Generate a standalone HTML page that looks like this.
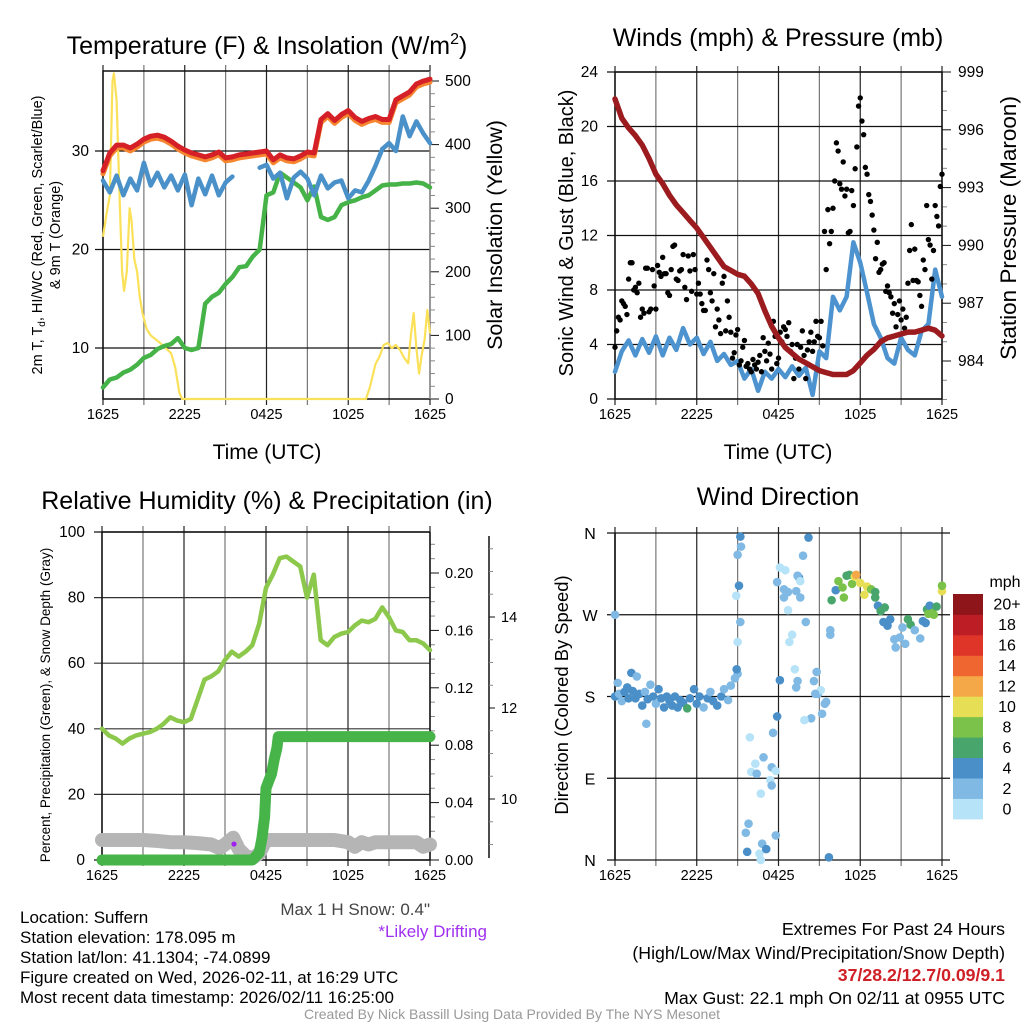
<!DOCTYPE html>
<html><head><meta charset="utf-8"><style>
html,body{margin:0;padding:0;background:#fff}
svg{display:block;font-family:"Liberation Sans",Arial,sans-serif}
</style></head><body>
<svg id="fig" width="1024" height="1024" viewBox="0 0 1024 1024" xmlns="http://www.w3.org/2000/svg">
<rect x="0" y="0" width="1024" height="1024" fill="#fff"/>
<!-- titles -->
<text x="267" y="54" font-size="25" text-anchor="middle">Temperature (F) &amp; Insolation (W/m<tspan font-size="16" dy="-10">2</tspan><tspan dy="10">)</tspan></text>
<text x="778" y="46" font-size="25" text-anchor="middle">Winds (mph) &amp; Pressure (mb)</text>
<text x="267" y="509" font-size="25" text-anchor="middle">Relative Humidity (%) &amp; Precipitation (in)</text>
<text x="778" y="505" font-size="25" text-anchor="middle">Wind Direction</text>
<!-- axis titles -->
<text transform="translate(42,235) rotate(-90)" font-size="14.5" text-anchor="middle">2m T, T<tspan font-size="10" dy="3">d</tspan><tspan dy="-3">, HI/WC (Red, Green, Scarlet/Blue)</tspan></text>
<text transform="translate(60,235) rotate(-90)" font-size="14.5" text-anchor="middle">&amp; 9m T (Orange)</text>
<text transform="translate(502,235) rotate(-90)" font-size="21.5" text-anchor="middle">Solar Insolation (Yellow)</text>
<text transform="translate(573,233) rotate(-90)" font-size="20" text-anchor="middle">Sonic Wind &amp; Gust (Blue, Black)</text>
<text transform="translate(1016,228) rotate(-90)" font-size="22.5" text-anchor="middle">Station Pressure (Maroon)</text>
<text transform="translate(50,705) rotate(-90)" font-size="13.5" text-anchor="middle">Percent, Precipitation (Green), &amp; Snow Depth (Gray)</text>
<text transform="translate(568,695) rotate(-90)" font-size="18.4" text-anchor="middle">Direction (Colored By Speed)</text>
<text x="267" y="459" font-size="21" text-anchor="middle">Time (UTC)</text>
<text x="778" y="459" font-size="21" text-anchor="middle">Time (UTC)</text>
<!-- info text -->
<g font-size="17">
<text x="20" y="923">Location: Suffern</text>
<text x="20" y="943">Station elevation: 178.095 m</text>
<text x="20" y="963">Station lat/lon: 41.1304; -74.0899</text>
<text x="20" y="983">Figure created on Wed, 2026-02-11, at 16:29 UTC</text>
<text x="20" y="1003">Most recent data timestamp: 2026/02/11 16:25:00</text>
</g>
<text x="430" y="915" font-size="17" fill="#444" text-anchor="end">Max 1 H Snow: 0.4"</text>
<text x="487" y="937" font-size="17" fill="#a030f0" text-anchor="end">*Likely Drifting</text>
<text x="1005" y="935" font-size="17.7" text-anchor="end">Extremes For Past 24 Hours</text>
<text x="1005" y="959" font-size="17.7" text-anchor="end">(High/Low/Max Wind/Precipitation/Snow Depth)</text>
<text x="1005" y="981" font-size="17.7" font-weight="bold" fill="#d02027" text-anchor="end">37/28.2/12.7/0.09/9.1</text>
<text x="1005" y="1004" font-size="17.7" text-anchor="end">Max Gust: 22.1 mph On 02/11 at 0955 UTC</text>
<text x="512" y="1019" font-size="14" fill="#999" text-anchor="middle">Created By Nick Bassill Using Data Provided By The NYS Mesonet</text>
<g id="plots"></g>
</svg>
<script>
// ---------- data ----------
const xTickLabels = ["1625","2225","0425","1025","1625"];
const halfHours = [0,0.5,1,1.5,2,2.5,3,3.5,4,4.5,5,5.5,6,6.5,7,7.5,8,8.5,9,9.5,10,10.5,11,11.5,12,12.5,13,13.5,14,14.5,15,15.5,16,16.5,17,17.5,18,18.5,19,19.5,20,20.5,21,21.5,22,22.5,23,23.5,24];
const temp2m = [28,29.8,30.6,30.6,30.3,30.7,31.2,31.5,31.6,31.4,31,30.5,30.1,29.8,29.6,29.4,29.6,29.9,29.3,29.4,29.6,29.7,29.8,29.9,30,29.1,29.6,29.3,29.2,29.5,29.9,29.8,33.2,33.8,33.1,33.7,34.1,33.4,33,33.3,33.5,33.2,33.2,35.2,35.6,36,36.8,37.1,37.3];
const temp9m = [27.7,29.5,30.3,30.3,30,30.4,30.9,31.2,31.3,31.1,30.7,30.2,29.8,29.5,29.3,29.1,29.3,29.6,29,29.1,29.3,29.4,29.5,29.6,29.7,28.8,29.3,29,28.9,29.2,29.6,29.5,32.9,33.5,32.8,33.4,33.8,33.1,32.7,33,33.2,32.9,32.9,34.9,35.3,35.7,36.5,36.8,37];
const windChill = [27,25.8,27.5,25.5,27.2,26,28.8,26.5,27.8,26.3,27.5,26,27.6,24.5,27.2,25.6,27.5,25.5,26.8,27.4,null,null,null,28.3,28.6,27.2,27.8,25.2,27.3,27.9,27.2,25.5,27.5,26.2,26.8,27,25.2,26,25.8,27,28.5,30.2,30.8,30,33.5,31.5,33,31.8,30.8];
const dewPoint = [6,6.8,7,7.5,7.8,8.3,9,9.3,9.9,10.2,10.4,11,10,9.8,10,14.5,15.2,15.6,16.5,17.2,18.2,18.3,19.3,20,25.5,25.8,27.8,27.3,26.8,26.3,25,26.4,23.3,23,23.3,24.5,24.8,25,25.3,25.5,26,26.5,26.6,26.6,26.7,26.7,26.8,26.7,26.3];
const solarHours = [0,0.25,0.5,0.7,0.8,1.0,1.2,1.4,1.55,1.75,1.95,2.1,2.3,2.5,2.7,2.9,3.2,3.5,3.8,4.2,4.6,5.0,5.3,5.6,5.8,19.3,19.6,20.0,20.3,20.6,20.9,21.2,21.5,21.8,22.1,22.4,22.6,22.8,23.0,23.2,23.4,23.6,23.8,24];
const solarVals = [255,290,320,500,512,470,330,200,170,200,300,280,220,200,160,135,110,100,95,88,80,72,50,10,0,0,20,55,67,85,88,80,85,77,65,56,100,135,80,40,70,93,140,103];
const pressure = [997.6,996.6,996.1,995.7,995.2,994.5,993.7,993.2,992.6,992.1,991.7,991.3,990.9,990.4,989.9,989.4,988.9,988.7,988.5,988.4,988,987.5,986.6,985.8,985.2,984.7,984.4,984.1,983.9,983.7,983.5,983.4,983.3,983.3,983.3,983.5,983.9,984.3,984.6,985,985.2,985.3,985.4,985.5,985.5,985.6,985.7,985.6,985.3];
const windSpeed = [2,3.5,4.3,3.2,4.4,3.4,4.6,3.2,4.5,3.6,5.2,4,4.5,3.3,4.2,2.8,3.3,2.5,2.8,1.5,2.2,0.6,2,1.5,2.2,1.6,2.4,1.7,2.3,0.3,3.5,3,7.5,6.5,7.5,11.5,10,7.8,5.5,4.5,3,2.6,4.5,3.6,3.2,5,5.5,9.5,7.5];
const gustA = [3.8,6,7.2,6.8,8.8,10,8.2,8.5,6.6, 9.6,6.4,9.5,6.6,9.3,10.4,9.2,7.6, 11.2,8.8,9.4,10.6,7.3,9.4,10.6,7.7, 7.7,6.5,10.2,7.8,9.2,6.6,4.8,9, 7.2,4.9,3.4,5.1,2.8,4.3,2.6,2, 2.5,2.7,2,3.5,4.1,2.2,4.6,3, 4.2,5.1,5.6,4,3,2.2,5,1.5, 4.2,3.5,5.7,4.5,3.9,9.5,11.4,14, 18.8,15.8,17.4,15.4,12.3,14.2,18.5,22.1, 19.4,16.5,14.5,12.4,11.5,9.5,10,8.3, 7.5,7,6.2,5.8,5.2,8.5,12.8,11, 8.6,6.8,9.5,11.7,8.8,14.2,12.7,16.5];
const gustB = [5,5.8,7,6.2,10,8,7.8,6, 6.3,9.6,6.6,8.3,9.8,9,9.2,7.8, 9.5,11.3,8.7,9.5,8.2,10.5,7.9,9.5, 8.5,7,6.5,9.5,7.2,5.3,5.8,8.5, 5,6,3,4.7,2.5,3.8,2.4,2.2, 2.9,2.2,3.2,4.5,2.8,3.3,5.7,2.6, 4.9,5.3,4.6,3.5,1.5,4,3.8,3.2, 3.6,4.9,4.2,4.6,5.7,12.3,13.9,12.3, 16,18.2,15.4,14.9,12.2,15.3,16.9,21.5, 20.4,17,15,13.5,10.3,9.3,9.9,7.9, 7.8,6.3,5.3,7.2,6.6,6,10.9,8.7, 8.7,7.6,10.2,14.2,11.3,10.9,13.4,15.6];
const humidity = [40,38,37,35.5,37,38,38.5,39,40,41.5,43.5,42.5,42,43,49,55,56,57.5,61,63.5,62,63.5,65.5,72,83,87,92,92.5,91,89.5,80,87,67,65.5,68,69,69.5,71.5,73,72.5,73.5,77,74,70,69.5,67,67,66,64];
const precipHours = [0,11.0,11.5,11.7,11.9,12.0,12.2,12.4,12.6,12.8,12.9,24];
const precipVals = [0,0,0.005,0.015,0.03,0.05,0.055,0.06,0.07,0.078,0.086,0.086];
const snowHours = [0,1,2,3,4,5,6,7,8,8.6,9,9.6,10,10.5,11,11.5,12,13,14,15,16,17,18,18.5,19,19.5,20,21,22,23,23.5,24];
const snowDepth = [9.1,9.1,9.1,9.1,9.08,9.05,9.05,9.03,9.0,8.92,9.0,9.15,8.9,8.75,8.7,8.8,9.1,9.1,9.1,9.1,9.1,9.1,9.05,8.95,9.05,9.0,9.05,9.05,9.05,9.05,8.95,9.0];
const driftHour = [9.66];
const driftDepth = [9.01];
const dirHours = [0,0,0.2,0.3,0.5,0.7,0.9,1.0,1.2,1.3,1.5,1.6,1.8,2.0,2.2,2.4,2.3,2.6,2.8,3.0,3.2,3.4,3.6,3.8,4.0,4.2,4.4,4.6,4.8,5.0,5.3,5.5,5.8,6.0,6.2,6.5,6.8,7.0,7.2,7.5,7.8,8.0,8.3,8.5,8.8,9.0,
 8.93,9.2,9.25,9.0,9.1,8.9,9.2,9.0,
 9.9,10.3,10.0,10.4,10.7,9.8,9.6,9.7,10.6,10.7,10.8,11.8,11.1,10.9,11.5,11.8,11.4,11.5,11.6,11.9,
 12.1,12.5,12.1,11.9,12.4,12.7,12.4,12.7,13.5,13.4,13.6,13.6,13.8,14.2,13.3,14.0,13.0,12.8,13.2,13.4,13.3,14.9,14.8,14.6,15.1,14.7,15.5,15.4,15.2,14.4,13.9,15.7,15.8,
 15.8,15.9,16.2,16.4,16.7,16.8,17.0,17.2,17.4,17.6,17.7,18.0,18.3,18.5,18.8,19.1,19.1,19.3,19.5,19.7,19.8,20.0,20.2,20.5,20.6,20.9,21.1,21.3,21.5,21.7,22.0,22.4,22.6,22.8,22.9,23.0,23.1,23.3,23.4,23.6,24,24];
const dirDegrees = [270,180,195,183,175,185,190,178,206,186,178,202,183,170,185,177,150,193,180,172,188,178,168,180,175,170,180,168,176,173,167,178,188,172,180,168,178,185,175,170,180,188,176,192,200,205,
 210,356,345,336,302,291,262,240,
 135,106,97,95,73,40,30,9,7,0,18,27,12,113,102,98,88,82,140,158,
 198,319,322,306,298,295,289,275,311,313,307,289,335,355,296,262,248,240,210,197,190,183,207,197,187,183,174,172,161,156,154,3,248,253,
 286,297,307,300,289,313,314,304,312,314,305,292,301,298,289,295,280,274,262,278,258,265,243,234,245,256,238,265,259,253,244,263,261,276,271,280,272,270,279,296,302,287,272,285];
const dirSpeeds = [3,5,3,3,3,5,5,5,5,5,5,3,5,5,3,5,3,3,5,3,5,5,5,5,5,5,5,5,5,5,7,5,5,5,5,3,5,3,5,5,5,3,3,3,3,3,
 5,5,3,3,5,1,3,1,
 1,1,1,3,1,3,3,5,1,1,3,3,5,3,3,1,1,3,3,5,
 5,1,1,3,3,3,3,1,5,3,1,3,3,5,3,3,1,1,1,3,3,3,3,3,1,3,3,3,3,3,1,5,3,3,
 7,5,9,9,9,7,7,9,11,13,11,11,11,9,7,7,5,7,5,7,5,5,3,3,3,3,3,7,7,3,3,5,5,7,9,5,9,9,7,11,9,7,9,7];
const speedBinLabels = ["0","2","4","6","8","10","12","14","16","18","20+"];
const speedBinColors = ["#b7e3f8","#7fb9e4","#4a8fc8","#48a66d","#7ac24a","#e6df55","#f5a847","#ef6631","#df3529","#bd1d25","#8e1519"];

// ---------- helpers ----------
const NS = "http://www.w3.org/2000/svg";
const root = document.getElementById("plots");
const TICK_FS = 15.5;
function mk(tag, attrs, parent){
  const el = document.createElementNS(NS, tag);
  for (const k in attrs) el.setAttribute(k, attrs[k]);
  (parent || root).appendChild(el);
  return el;
}
function lin(d0,d1,r0,r1){ return v => r0 + (v-d0)*(r1-r0)/(d1-d0); }
function pathFrom(xs, ys, fx, fy){
  let d = "", pen = false;
  for (let i=0;i<xs.length;i++){
    if (ys[i]===null || ys[i]===undefined){ pen=false; continue; }
    d += (pen?"L":"M") + fx(xs[i]).toFixed(1) + "," + fy(ys[i]).toFixed(1);
    pen = true;
  }
  return d;
}

function panelFrame(P, name){
  const g = mk("g", {});
  
  
  for (let h=0; h<=24; h+=3){
    const x = P.fx(h);
    const ln = mk("line", {x1:x, x2:x, y1:P.y0-6, y2:P.y1+6, stroke: (h%6===0)?"#222":"#777", "stroke-width":1.2}, g);
    
    
  }
  xTickLabels.forEach((lab,i) => {
    const t = mk("text", {x:P.fx(i*6), y:P.y1+20, "font-size":14.5, "text-anchor":"middle"}, g);
    t.textContent = lab;
    
    
  });
  return g;
}

// ---------- Panel 1: temperature ----------
(function(){
  const P = {x0:103,x1:430,y0:71,y1:399};
  P.fx = lin(0,24,P.x0,P.x1);
  const fy = lin(10,30,348,151);
  const fs = lin(0,500,399,81);
  const g = panelFrame(P,'temperature');
  [10,20,30].forEach(v => {
    const l = mk("line",{x1:P.x0-8,x2:P.x1,y1:fy(v),y2:fy(v),stroke:"#111","stroke-width":1.2},g);
    
    
    const t = mk("text",{x:P.x0-14,y:fy(v)+5,"font-size":TICK_FS,"text-anchor":"end"},g);
    t.textContent = v;
    
    
  });
  for (let v=0; v<=500; v+=20){
    const big = v%100===0;
    const l = mk("line",{x1:P.x1,x2:P.x1+(big?9:5),y1:fs(v),y2:fs(v),stroke:big?"#111":"#888","stroke-width":1},g);
    
    
    if (big){
      const t = mk("text",{x:P.x1+15,y:fs(v)+5,"font-size":TICK_FS},g);
      t.textContent = v;
      
      
    }
  }
  const fr = mk("path",{d:`M${P.x1},${P.y0}H${P.x0}V${P.y1}H${P.x1}`,fill:"none",stroke:"#111","stroke-width":1.5},g);
  
  
  const ra = mk("line",{x1:P.x1,x2:P.x1,y1:P.y0,y2:P.y1,stroke:"#888","stroke-width":1.5},g);
  
  
  const s1 = mk("path",{d:pathFrom(solarHours,solarVals,P.fx,fs),fill:"none",stroke:"#fbe15a","stroke-width":2.2,"stroke-linejoin":"round"});
  
  
  const s2 = mk("path",{d:pathFrom(halfHours,dewPoint,P.fx,fy),fill:"none",stroke:"#45b347","stroke-width":4.5,"stroke-linejoin":"round","stroke-linecap":"round"});
  
  
  const s3 = mk("path",{d:pathFrom(halfHours,windChill,P.fx,fy),fill:"none",stroke:"#4a91c9","stroke-width":4.5,"stroke-linejoin":"round","stroke-linecap":"round"});
  
  
  const s4 = mk("path",{d:pathFrom(halfHours,temp9m,P.fx,fy),fill:"none",stroke:"#f5862f","stroke-width":5,"stroke-linejoin":"round","stroke-linecap":"round"});
  
  
  const s5 = mk("path",{d:pathFrom(halfHours,temp2m,P.fx,fy),fill:"none",stroke:"#d42026","stroke-width":5,"stroke-linejoin":"round","stroke-linecap":"round"});
  
  
})();

// ---------- Panel 2: winds ----------
(function(){
  const P = {x0:615,x1:942,y0:72,y1:399};
  P.fx = lin(0,24,P.x0,P.x1);
  const fy = lin(0,24,399,72);
  const fp = lin(984,999,361,72);
  const g = panelFrame(P,'winds');
  for (let v=0; v<=24; v+=4){
    const l = mk("line",{x1:P.x0-8,x2:P.x1,y1:fy(v),y2:fy(v),stroke:"#111","stroke-width":1.2},g);
    
    
    const t = mk("text",{x:P.x0-17,y:fy(v)+5,"font-size":TICK_FS,"text-anchor":"end"},g);
    t.textContent = v;
    
    
  }
  for (let v=982; v<=999; v+=1){
    const big = v%3===0;
    const l = mk("line",{x1:P.x1,x2:P.x1+(big?9:5),y1:fp(v),y2:fp(v),stroke:big?"#111":"#888","stroke-width":1},g);
    
    
    if (big){
      const t = mk("text",{x:P.x1+16,y:fp(v)+5,"font-size":TICK_FS},g);
      t.textContent = v;
      
      
    }
  }
  const fr = mk("rect",{x:P.x0,y:P.y0,width:P.x1-P.x0,height:P.y1-P.y0,fill:"none",stroke:"#111","stroke-width":1.5},g);
  
  
  const w = mk("path",{d:pathFrom(halfHours,windSpeed,P.fx,fy),fill:"none",stroke:"#4c93cf","stroke-width":4.5,"stroke-linejoin":"round","stroke-linecap":"round"});
  
  
  const gg = mk("g",{fill:"#000"});
  
  
  gustA.forEach((v,i) => {
    const c = mk("circle",{cx:P.fx(i*0.25),cy:fy(v),r:2.7},gg);
    
    
  });
  gustB.forEach((v,i) => {
    const c = mk("circle",{cx:P.fx(0.125+i*0.25),cy:fy(v),r:2.7},gg);
    
    
  });
  const p = mk("path",{d:pathFrom(halfHours,pressure,P.fx,fp),fill:"none",stroke:"#9b1b1e","stroke-width":5.5,"stroke-linejoin":"round","stroke-linecap":"round"});
  
  
})();

// ---------- Panel 3: humidity ----------
(function(){
  const P = {x0:102,x1:430,y0:532,y1:860};
  P.fx = lin(0,24,P.x0,P.x1);
  const fy = lin(0,100,860,532);
  const fpr = lin(0,0.2,860,573);
  const fsn = lin(10,14,799,617);
  const g = panelFrame(P,'humidity');
  for (let v=0; v<=100; v+=20){
    const l = mk("line",{x1:P.x0-8,x2:P.x1,y1:fy(v),y2:fy(v),stroke:(v===0||v===100)?"#111":"#333","stroke-width":1.2},g);
    
    
    const t = mk("text",{x:P.x0-17,y:fy(v)+5,"font-size":TICK_FS,"text-anchor":"end"},g);
    t.textContent = v;
    
    
  }
  for (let k=0; k<=22; k++){
    const v = k*0.01;
    const big = k%4===0;
    const l = mk("line",{x1:P.x1,x2:P.x1+(big?9:5),y1:fpr(v),y2:fpr(v),stroke:big?"#111":"#888","stroke-width":1},g);
    
    
    if (big){
      const t = mk("text",{x:P.x1+15,y:fpr(v)+5,"font-size":14.5},g);
      t.textContent = v.toFixed(2);
      
      
    }
  }
  const sa = mk("line",{x1:489,x2:489,y1:536,y2:858,stroke:"#111","stroke-width":1.5},g);
  
  
  for (let k=0; k<=13; k++){
    const v = 9 + k*0.5;
    const big = (v%2===0);
    const l = mk("line",{x1:489,x2:489+(big?6:4),y1:fsn(v),y2:fsn(v),stroke:big?"#111":"#888","stroke-width":1},g);
    
    
    if (big && v<=14){
      const t = mk("text",{x:501,y:fsn(v)+5,"font-size":14.5},g);
      t.textContent = v;
      
      
    }
  }
  const fr = mk("path",{d:`M${P.x1},${P.y0}H${P.x0}V${P.y1}H${P.x1}V${P.y0}`,fill:"none",stroke:"#111","stroke-width":1.5},g);
  
  
  const sn = mk("path",{d:pathFrom(snowHours,snowDepth,P.fx,fsn),fill:"none",stroke:"#b5b5b5","stroke-width":14,"stroke-linejoin":"round","stroke-linecap":"round"});
  
  
  const rh = mk("path",{d:pathFrom(halfHours,humidity,P.fx,fy),fill:"none",stroke:"#8cc84b","stroke-width":4.5,"stroke-linejoin":"round","stroke-linecap":"round"});
  
  
  const pr = mk("path",{d:pathFrom(precipHours,precipVals,P.fx,fpr),fill:"none",stroke:"#46b448","stroke-width":11,"stroke-linejoin":"round","stroke-linecap":"round"});
  
  
  driftHour.forEach((h,i) => {
    const c = mk("circle",{cx:P.fx(h),cy:fsn(driftDepth[i]),r:2.6,fill:"#a020f0"});
    
    
  });
})();

// ---------- Panel 4: wind direction ----------
(function(){
  const P = {x0:615,x1:942,y0:533,y1:860};
  P.fx = lin(0,24,P.x0,P.x1);
  const fy = lin(0,360,860,533);
  const g = panelFrame(P,'direction');
  ["N","E","S","W","N"].forEach((lab,i) => {
    const y = fy(i*90);
    const l = mk("line",{x1:P.x0-8,x2:P.x1+8,y1:y,y2:y,stroke:"#111","stroke-width":1.2},g);
    
    
    const t = mk("text",{x:590,y:y+6,"font-size":16,"text-anchor":"middle"},g);
    t.textContent = lab;
    
    
  });
  const ax = mk("line",{x1:P.x0,x2:P.x0,y1:P.y0,y2:P.y1,stroke:"#111","stroke-width":1.6},g);
  
  
  const pg = mk("g",{});
  
  
  dirHours.forEach((h,i) => {
    const bin = Math.min(10, Math.floor(dirSpeeds[i]/2));
    const c = mk("circle",{cx:P.fx(h),cy:fy(dirDegrees[i]),r:4.3,fill:speedBinColors[bin]},pg);
    
    
  });
  // colorbar
  const cb = mk("g",{});
  
  
  const segH = (819-594)/speedBinLabels.length;
  speedBinLabels.forEach((lab,i) => {
    const y = 819 - (i+1)*segH;
    const r = mk("rect",{x:953,y:y,width:30,height:segH+0.4,fill:speedBinColors[i]},cb);
    
    
    const t = mk("text",{x:1007,y:y+segH/2+5.5,"font-size":16,"text-anchor":"middle"},cb);
    t.textContent = lab;
    
    
  });
  const mph = mk("text",{x:1005,y:587,"font-size":16,"text-anchor":"middle"},cb);
  mph.textContent = "mph";
  
  
})();
</script>
</body></html>
